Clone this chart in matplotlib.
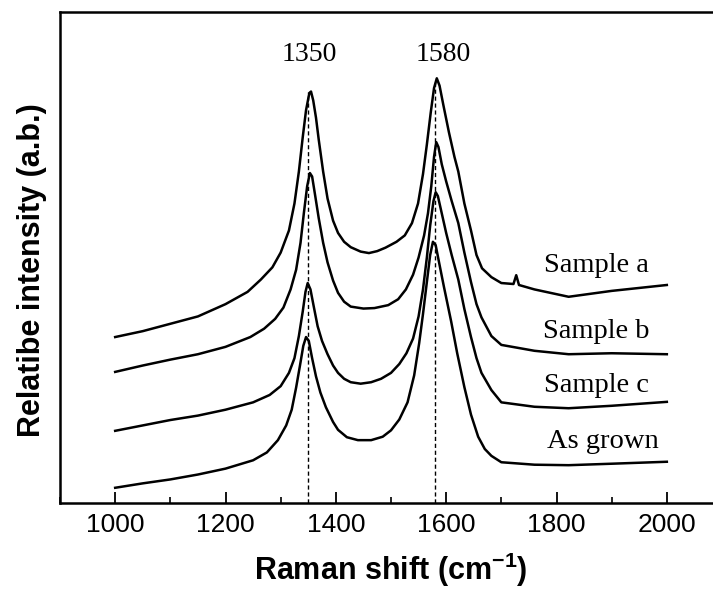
import numpy as np
import matplotlib
matplotlib.use("Agg")
import matplotlib.pyplot as plt
from matplotlib.ticker import MultipleLocator

plt.rcParams['font.family'] = ['Liberation Sans', 'DejaVu Sans']
plt.rcParams['mathtext.fontset'] = 'custom'
plt.rcParams['mathtext.rm'] = 'Liberation Sans'
plt.rcParams['mathtext.bf'] = 'Liberation Sans:bold'

##Spectra (Raman shift in cm-1, stacked intensity in a.u.)
wave_a = [1000, 1050, 1100, 1150, 1200, 1240, 1264, 1285, 1300, 1315, 1325, 1333, 1340, 1346,
          1352, 1355, 1359, 1364, 1369, 1377, 1385, 1395, 1404, 1415, 1427, 1445, 1460, 1475,
          1490, 1510, 1525, 1538, 1549, 1558, 1565, 1572, 1578, 1583, 1588, 1595, 1605, 1615,
          1622, 1633, 1645, 1655, 1665, 1682, 1700, 1722, 1727, 1732, 1760, 1822, 1900, 2000]
int_a = [33.8, 35.0, 36.5, 38.0, 40.5, 43.0, 45.5, 48.0, 51.0, 55.5, 61.0, 67.5, 74.5, 80.0,
         83.5, 83.8, 82.0, 78.5, 74.0, 67.5, 62.0, 57.5, 55.0, 53.2, 52.1, 51.2, 50.9, 51.3,
         52.0, 53.2, 54.5, 57.0, 61.0, 67.0, 73.0, 79.5, 84.5, 86.5, 85.0, 81.0, 75.5, 70.5,
         67.5, 61.0, 55.5, 50.5, 47.8, 46.0, 44.8, 44.6, 46.4, 44.4, 43.5, 42.0, 43.2, 44.4]

wave_b = [1000, 1050, 1100, 1150, 1200, 1245, 1270, 1290, 1305, 1318, 1328, 1336, 1342, 1348,
          1353, 1357, 1362, 1369, 1377, 1385, 1395, 1404, 1415, 1427, 1450, 1470, 1495, 1513,
          1527, 1540, 1550, 1560, 1567, 1573, 1578, 1582, 1586, 1592, 1600, 1610, 1622, 1633,
          1645, 1655, 1664, 1682, 1700, 1760, 1822, 1900, 2000]
int_b = [26.7, 28.0, 29.2, 30.3, 31.8, 33.8, 35.5, 37.5, 39.8, 43.5, 47.5, 53.0, 59.0, 64.5,
         67.2, 66.5, 63.0, 58.0, 53.0, 49.0, 45.3, 42.8, 41.0, 40.0, 39.6, 39.7, 40.3, 41.5,
         43.5, 46.5, 50.0, 54.5, 59.0, 64.5, 70.5, 73.5, 72.5, 69.0, 65.5, 61.5, 57.0, 51.0,
         45.0, 40.5, 37.8, 34.0, 32.2, 31.0, 30.3, 30.5, 30.3]

wave_c = [1000, 1050, 1100, 1150, 1200, 1250, 1280, 1300, 1315, 1325, 1333, 1340, 1345, 1349,
          1354, 1360, 1367, 1375, 1385, 1395, 1404, 1415, 1427, 1445, 1464, 1482, 1500, 1515,
          1528, 1540, 1550, 1558, 1565, 1571, 1577, 1581, 1585, 1592, 1600, 1610, 1622, 1633,
          1645, 1655, 1664, 1682, 1700, 1760, 1822, 1900, 2000]
int_c = [14.7, 15.8, 16.9, 17.8, 19.0, 20.5, 22.0, 23.8, 26.5, 29.5, 34.0, 39.0, 43.0, 44.8,
         43.5, 40.0, 36.0, 33.0, 30.3, 28.0, 26.5, 25.3, 24.6, 24.3, 24.6, 25.3, 26.5, 28.3,
         30.5, 33.5, 38.0, 43.5, 50.0, 56.5, 61.5, 63.3, 62.5, 59.0, 55.0, 50.5, 45.5, 39.5,
         33.8, 29.5, 26.5, 23.0, 20.5, 19.6, 19.3, 19.8, 20.6]

wave_g = [1000, 1050, 1100, 1150, 1200, 1250, 1275, 1295, 1310, 1320, 1328, 1335, 1341, 1346,
          1351, 1357, 1364, 1372, 1382, 1395, 1404, 1420, 1440, 1464, 1485, 1500, 1515, 1530,
          1542, 1551, 1558, 1565, 1571, 1576, 1581, 1588, 1596, 1609, 1620, 1633, 1645, 1658,
          1670, 1682, 1700, 1760, 1822, 1900, 2000]
int_g = [3.1, 4.0, 4.8, 5.8, 7.0, 8.7, 10.3, 12.8, 15.8, 19.0, 23.5, 28.0, 32.0, 33.8,
         33.0, 29.5, 25.8, 22.5, 19.5, 16.5, 14.9, 13.4, 12.8, 12.8, 13.5, 14.8, 17.0, 20.5,
         26.0, 32.5, 38.5, 45.0, 50.5, 53.2, 52.5, 48.5, 44.0, 37.0, 30.5, 23.6, 18.0, 13.5,
         11.0, 9.6, 8.3, 7.8, 7.7, 8.0, 8.4]

names = ["Sample a", "Sample b", "Sample c", "As grown"]
label_x = [1778, 1776, 1778, 1782]
label_y = [47.0, 33.6, 22.6, 11.2]

peaks = [1350, 1580]
peak_top = [83.7, 86.2]
peak_text = ["1350", "1580"]
peak_text_x = [1351, 1595]

##Figure
fig = plt.figure(figsize=(7.13, 5.94), dpi=100)
ax = fig.add_axes([60/713, 91/594, 662/713, 491/594])

for w, s in [(wave_a, int_a), (wave_b, int_b), (wave_c, int_c), (wave_g, int_g)]:
	ax.plot(w, s, color='black', lw=1.8)

ax.vlines(peaks, 0, peak_top, colors='black', linestyles=(0, (3, 2)), lw=1.0)

for t, x in zip(peak_text, peak_text_x):
	ax.text(x, 90.0, t, ha='center', va='baseline', fontsize=20, family='Liberation Serif')

for n, x, y in zip(names, label_x, label_y):
	ax.text(x, y, n, ha='left', va='baseline', fontsize=20.5, family='Liberation Serif')

ax.set_xlim(900, 2100)
ax.set_ylim(0, 100)
ax.set_xticks([1000, 1200, 1400, 1600, 1800, 2000])
ax.xaxis.set_minor_locator(MultipleLocator(100))
ax.set_yticks([])
ax.tick_params(axis='x', which='major', direction='in', length=8, width=1.3, labelsize=19, pad=7)
ax.tick_params(axis='x', which='minor', direction='in', length=4, width=1.2)
ax.tick_params(axis='x', which='both', top=False)
for sp in ax.spines.values():
	sp.set_linewidth(1.8)

ax.set_xlabel(r'Raman shift (cm$^{\mathbf{-1}}$)', fontsize=22, fontweight='bold', labelpad=10)
ax.set_ylabel('Relatibe intensity (a.b.)', fontsize=22, fontweight='bold')
ax.yaxis.set_label_coords(-0.02, 0.475)

plt.savefig("out.png", dpi=100)
